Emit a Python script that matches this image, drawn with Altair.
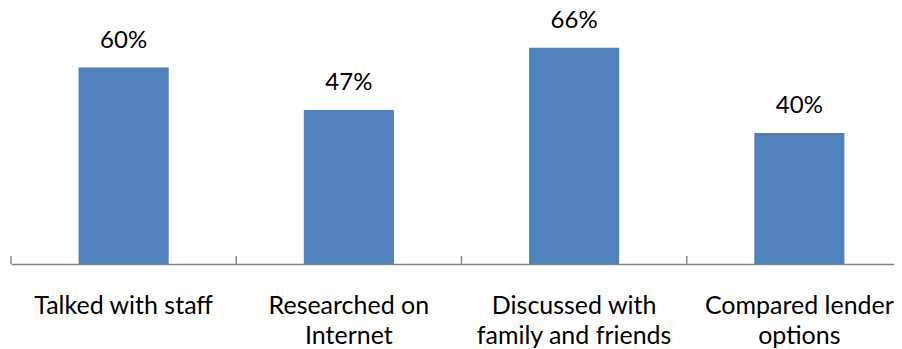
import altair as alt
import pandas as pd

categories = ["Talked with staff", "Researched on|Internet", "Discussed with|family and friends", "Compared lender|options"]
values = [60, 47, 66, 40]

df = pd.DataFrame({"cat": categories, "val": values})
df["lbl"] = [f"{v}%" for v in values]

FONT = "Lato"
x_enc = alt.X(
    "cat:N",
    sort=categories,
    title=None,
    scale=alt.Scale(paddingInner=0, paddingOuter=0),
    axis=alt.Axis(
        labelExpr="split(datum.label, '|')",
        labelAngle=0,
        labelFont=FONT,
        labelFontSize=25,
        labelColor="#000000",
        labelPadding=30,
        labelLineHeight=30,
        labelBaseline="top",
        labelLimit=0,
        ticks=False,
        domainColor="#868686",
        domainWidth=1.5,
        grid=False,
    ),
)
y_scale = alt.Scale(domain=[0, 77.5])

base = alt.Chart(df)
bars = base.mark_bar(width=alt.RelativeBandSize(0.4), color="#4F81BD").encode(
    x=x_enc,
    y=alt.Y("val:Q", scale=y_scale, axis=None),
)
labels = base.mark_text(baseline="bottom", dy=-15, font=FONT, fontSize=24, color="#000000").encode(
    x=alt.X("cat:N", sort=categories),
    y=alt.Y("val:Q", scale=y_scale),
    text="lbl:N",
)
ticks = base.mark_rule(color="#868686", strokeWidth=1.5).encode(
    x=alt.X("cat:N", sort=categories, bandPosition=0),
    y=alt.value(246),
    y2=alt.value(254),
)

chart = (
    alt.layer(bars, labels, ticks)
    .properties(width=902, height=254, padding={"left": 2, "top": 0, "right": -18, "bottom": 0})
    .configure_view(stroke=None)
)
chart.save("out.html", embed_options={"renderer": "svg", "actions": False})
